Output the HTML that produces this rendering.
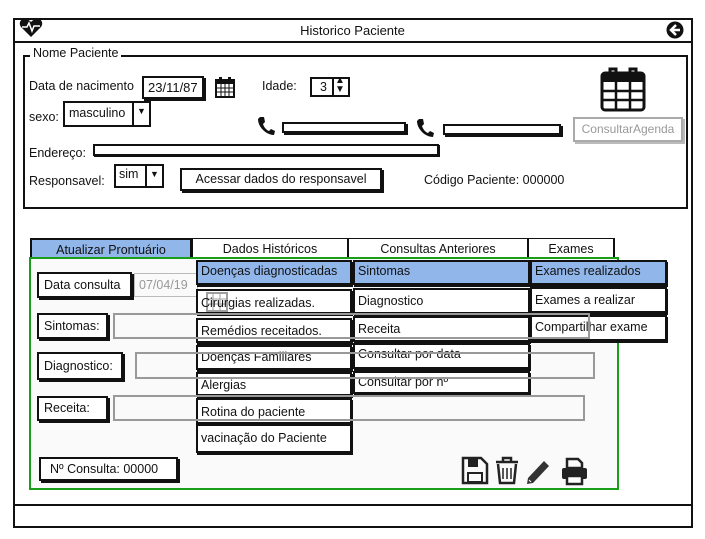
<!DOCTYPE html>
<html><head><meta charset="utf-8"><style>
*{box-sizing:border-box;margin:0;padding:0}
body{width:705px;height:539px;background:#fff;position:relative;overflow:hidden;font-family:"Liberation Sans",sans-serif;font-size:12.5px;color:#111}
.a{position:absolute}
.b{position:absolute;border:2px solid #111;background:#fff;box-shadow:2px 2px 0 #111}
.t{position:absolute;white-space:nowrap}
.g{position:absolute;border:2px solid #999;background:transparent}
.m{position:absolute;border:2px solid #111;background:#fff;padding-left:3px;line-height:19px;white-space:nowrap;box-shadow:1px 2px 0 #111}
.tab{position:absolute;top:238px;height:21px;border:1px solid #111;border-bottom:none;text-align:center;line-height:21px;background:#fff}
.m.blue,.tab.blue{background:#91b6ea}
</style></head><body>
<div class="a" style="left:13px;top:18px;width:680px;height:510px;border:2px solid #111"></div>
<div class="a" style="left:13px;top:41px;width:680px;height:2px;background:#111"></div>
<div class="a" style="left:13px;top:504px;width:680px;height:2px;background:#111"></div>
<div class="t" style="left:0;width:705px;top:23px;text-align:center;font-size:13px">Historico Paciente</div>
<svg class="a" style="left:19px;top:18px" width="24" height="20" viewBox="0 0 24 20"><path d="M12 19 L2 9 C-1 5 2 0 6 1 C9 1 11 3 12 4 C13 3 15 1 18 1 C22 0 25 5 22 9Z" fill="#111"/><polyline points="3,9 8,9 10,5 13,13 15,8 21,8" fill="none" stroke="#fff" stroke-width="1.5"/></svg>
<svg class="a" style="left:666px;top:21px" width="18" height="18"><circle cx="9" cy="9" r="8.5" fill="#111"/><path d="M10 4 L5 9 L10 14 M5 9 H14" stroke="#fff" stroke-width="2.5" fill="none"/></svg>
<div class="a" style="left:23px;top:55px;width:665px;height:154px;border:2px solid #111"></div>
<div class="t" style="left:30px;top:46px;background:#fff;padding:0 3px;font-size:12.5px">Nome Paciente</div>
<div class="t" style="left:29px;top:79px">Data de nacimento</div>
<div class="b" style="left:142px;top:76px;width:62px;height:23px;padding-left:4px;line-height:19px;font-size:13px">23/11/87</div>
<svg class="a" style="left:215px;top:76px" width="20" height="22"><rect x="1" y="4" width="18" height="17" fill="none" stroke="#111" stroke-width="2"/><rect x="1" y="4" width="18" height="4" fill="#111"/><path d="M1 12H19M1 16H19M6 8V21M10 8V21M14 8V21" stroke="#111"/><rect x="4" y="1" width="3" height="5" fill="#111"/><rect x="13" y="1" width="3" height="5" fill="#111"/></svg>
<div class="t" style="left:262px;top:79px">Idade:</div>
<div class="b" style="left:310px;top:77px;width:40px;height:20px;box-shadow:none;padding-left:8px;line-height:16px">3</div>
<div class="a" style="left:332px;top:77px;width:2px;height:20px;background:#111"></div>
<div class="t" style="left:335px;top:76px;font-size:10px;line-height:9px">▲<br>▼</div>
<div class="t" style="left:29px;top:110px">sexo:</div>
<div class="b" style="left:63px;top:101px;width:88px;height:26px;box-shadow:none;padding-left:4px;line-height:20px">masculino</div>
<div class="a" style="left:132px;top:101px;width:2px;height:26px;background:#111"></div>
<div class="t" style="left:137px;top:106px;font-size:9px">▼</div>
<svg class="a" style="left:600px;top:66px" width="46" height="46"><rect x="2" y="7" width="42" height="37" rx="3" fill="none" stroke="#111" stroke-width="3"/><rect x="2" y="7" width="42" height="9" fill="#111"/><path d="M2 25H44M2 34H44M16 16V44M30 16V44" stroke="#111" stroke-width="2.5"/><path d="M10 12V3H16V12M30 12V3H36V12" stroke="#111" stroke-width="3" fill="none"/></svg>
<div class="a" style="left:573px;top:117px;width:110px;height:25px;border:2px solid #aaa;box-shadow:2px 2px 0 #bbb;color:#999;text-align:center;line-height:21px;font-size:12px">ConsultarAgenda</div>
<svg class="a" style="left:257px;top:116px" width="18" height="20"><path d="M3 1 L7 1 L8 6 L6 8 C7 11 9 14 12 15 L14 13 L18 15 L17 19 C9 19 1 11 1 3Z" fill="#111"/></svg>
<div class="b" style="left:282px;top:122px;width:124px;height:11px"></div>
<svg class="a" style="left:416px;top:118px" width="18" height="20"><path d="M3 1 L7 1 L8 6 L6 8 C7 11 9 14 12 15 L14 13 L18 15 L17 19 C9 19 1 11 1 3Z" fill="#111"/></svg>
<div class="b" style="left:443px;top:124px;width:118px;height:11px"></div>
<div class="t" style="left:29px;top:146px">Endereço:</div>
<div class="b" style="left:93px;top:144px;width:346px;height:12px;box-shadow:1px 1px 0 #111"></div>
<div class="t" style="left:29px;top:174px">Responsavel:</div>
<div class="b" style="left:114px;top:164px;width:50px;height:24px;box-shadow:none;padding-left:3px;line-height:17px">sim</div>
<div class="a" style="left:145px;top:164px;width:2px;height:24px;background:#111"></div>
<div class="t" style="left:150px;top:169px;font-size:9px">▼</div>
<div class="b" style="left:180px;top:168px;width:202px;height:23px;text-align:center;line-height:19px">Acessar dados do responsavel</div>
<div class="t" style="left:424px;top:173px">Código Paciente: 000000</div>
<div class="tab blue" style="left:30px;width:162px;border:2px solid #111;border-bottom:none">Atualizar Prontuário</div>
<div class="tab" style="left:192px;width:156px">Dados Históricos</div>
<div class="tab" style="left:348px;width:180px">Consultas Anteriores</div>
<div class="tab" style="left:528px;width:87px;border-right:2px solid #111">Exames</div>
<div class="a" style="left:29px;top:257px;width:590px;height:233px;border:2px solid #1a9e1a;background:#fafafa"></div>
<div class="b" style="left:37px;top:272px;width:95px;height:26px;padding-left:5px;line-height:22px">Data consulta</div>
<div class="a" style="left:134px;top:273px;width:64px;height:24px;border:1px solid #bbb;color:#999;padding-left:4px;line-height:22px">07/04/19</div>
<div class="b" style="left:37px;top:313px;width:71px;height:26px;padding-left:5px;line-height:22px">Sintomas:</div>
<div class="b" style="left:37px;top:352px;width:86px;height:28px;padding-left:5px;line-height:24px">Diagnostico:</div>
<div class="b" style="left:37px;top:396px;width:71px;height:25px;padding-left:5px;line-height:20px">Receita:</div>
<div class="b" style="left:39px;top:457px;width:139px;height:24px;padding-left:9px;line-height:20px">Nº Consulta: 00000</div>
<div class="m blue" style="left:196px;top:260px;width:156px;height:25px">Doenças diagnosticadas</div>
<div class="m" style="left:196px;top:289px;width:156px;height:25px;line-height:25px">Cirurgias realizadas.</div>
<div class="m" style="left:196px;top:318px;width:156px;height:25px;line-height:23px">Remédios receitados.</div>
<div class="m" style="left:196px;top:345px;width:156px;height:25px;line-height:20px">Doenças Familiares</div>
<div class="m" style="left:196px;top:372px;width:156px;height:24px;line-height:22px">Alergias</div>
<div class="m" style="left:196px;top:398px;width:156px;height:26px;line-height:24px">Rotina do paciente</div>
<div class="m" style="left:196px;top:424px;width:156px;height:29px;line-height:25px">vacinação do Paciente</div>
<div class="m blue" style="left:353px;top:260px;width:177px;height:25px">Sintomas</div>
<div class="m" style="left:353px;top:288px;width:177px;height:26px;line-height:23px">Diagnostico</div>
<div class="m" style="left:353px;top:316px;width:177px;height:26px;line-height:22px">Receita</div>
<div class="m" style="left:353px;top:343px;width:177px;height:26px;line-height:18px">Consultar por data</div>
<div class="m" style="left:353px;top:371px;width:177px;height:23px;line-height:18px">Consultar por nº</div>
<div class="m blue" style="left:530px;top:260px;width:137px;height:25px">Exames realizados</div>
<div class="m" style="left:530px;top:287px;width:137px;height:26px;line-height:22px">Exames a realizar</div>
<div class="m" style="left:530px;top:315px;width:137px;height:26px;line-height:21px">Compartilhar exame</div>
<div class="g" style="left:113px;top:313px;width:477px;height:26px"></div>
<div class="g" style="left:135px;top:352px;width:460px;height:27px"></div>
<div class="g" style="left:113px;top:395px;width:472px;height:26px"></div>
<svg class="a" style="left:206px;top:290px;opacity:.4" width="22" height="22"><rect x="1" y="3" width="20" height="18" fill="none" stroke="#111" stroke-width="2"/><path d="M1 9H21M1 14H21M7 3V21M14 3V21" stroke="#111"/></svg>
<svg class="a" style="left:461px;top:456px" width="130" height="30" viewBox="0 0 130 30">
<path d="M2 2H20L26 8V27H2Z" fill="none" stroke="#222" stroke-width="2.5"/><rect x="7" y="3" width="10" height="8" fill="#222"/><rect x="7" y="17" width="14" height="9" fill="none" stroke="#222" stroke-width="2"/>
<path d="M35 6H57M42 6V2H50V6M37 8L39 27H53L55 8" fill="none" stroke="#222" stroke-width="2.5"/><path d="M42 12V23M46 12V23M50 12V23" stroke="#222" stroke-width="1.5"/>
<path d="M67 22L83 5L88 10L72 27L66 28Z" fill="#333"/><path d="M68 24L70 26" stroke="#fff"/>
<path d="M106 3H117L121 7V12H106Z" fill="none" stroke="#222" stroke-width="2.5"/><rect x="101" y="12" width="25" height="11" rx="2" fill="#222"/><rect x="106" y="20" width="15" height="8" fill="#fff" stroke="#222" stroke-width="2.5"/>
</svg>
</body></html>
